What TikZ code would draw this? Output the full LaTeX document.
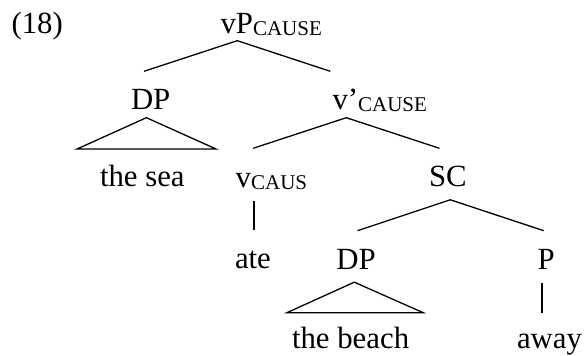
\documentclass[tikz,border=0pt]{standalone}
\usepackage{fontspec}
\setmainfont{Liberation Serif}
\begin{document}
\begin{tikzpicture}[x=0.5pt,y=-0.5pt,
  lbl/.style={inner sep=0pt,outer sep=0pt,anchor=base west,font=\fontsize{15.4}{18}\selectfont},
  edge/.style={line width=0.65pt}]
\newcommand{\subsc}[1]{\raisebox{-1pt}{\fontsize{10.5}{12}\selectfont #1}}
\useasboundingbox (0,0) rectangle (584,356);
% labels
\node[lbl] (ex) at (11.5,33.3) {(18)};
\node[lbl] (vp) at (220.5,33.3) {vP\subsc{CAUSE}};
\node[lbl] (dp1) at (131,109.3) {DP};
\node[lbl] (vbar) at (332.5,109.3) {v’\subsc{CAUSE}};
\node[lbl] (sea) at (100,186.7) {the sea};
\node[lbl] (v) at (235.7,188) {v\subsc{CAUS}};
\node[lbl] (sc) at (429,186.7) {SC};
\node[lbl] (ate) at (235,268.3) {ate};
\node[lbl] (dp2) at (336.3,269.3) {DP};
\node[lbl] (p) at (537.5,269.3) {P};
\node[lbl] (beach) at (292,348.3) {the beach};
\node[lbl] (away) at (517,348.3) {away};
% attachment points
\coordinate (vpB) at (237.3,40.7);
\coordinate (dp1T) at (144,71.3);
\coordinate (vbarT) at (330.3,71.3);
\coordinate (dp1B) at (146.4,117.7);
\coordinate (seaL) at (77.1,149);
\coordinate (seaR) at (216,149);
\coordinate (vbarB) at (346.3,117.7);
\coordinate (vT) at (253.2,148.3);
\coordinate (scT) at (439.4,148.3);
\coordinate (vB) at (254,201.5);
\coordinate (ateT) at (254,230.3);
\coordinate (scB) at (450.3,199.8);
\coordinate (dp2T) at (357.5,230.7);
\coordinate (pT) at (543.7,230.7);
\coordinate (dp2B) at (354.3,282.2);
\coordinate (beachL) at (286.7,312.8);
\coordinate (beachR) at (423.4,312.8);
\coordinate (pB) at (542,283.3);
\coordinate (awayT) at (542,312.7);
% edges
\draw[edge] (dp1T) -- (vpB) -- (vbarT);
\draw[edge] (seaL) -- (dp1B) -- (seaR) -- cycle;
\draw[edge] (vT) -- (vbarB) -- (scT);
\draw[edge] (vB) -- (ateT);
\draw[edge] (dp2T) -- (scB) -- (pT);
\draw[edge] (beachL) -- (dp2B) -- (beachR) -- cycle;
\draw[edge] (pB) -- (awayT);
\end{tikzpicture}
\end{document}
